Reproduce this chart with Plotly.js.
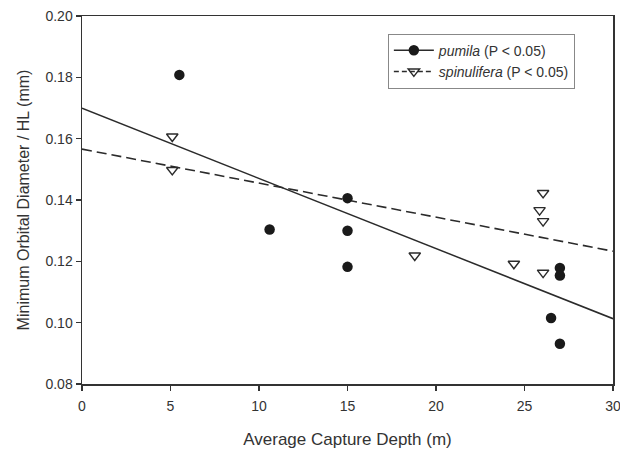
<!DOCTYPE html>
<html>
<head>
<meta charset="utf-8">
<script src="https://cdn.plot.ly/plotly-3.0.1.min.js"></script>
<style>html,body{margin:0;padding:0;background:#fff;}#chart{width:620px;height:451px;}</style>
</head>
<body>
<div id="chart"></div>
<script>
// pumila observations
var pumilaDepth = [5.5, 10.6, 15.0, 15.0, 15.0, 27.0, 27.0, 26.5, 27.0];
var pumilaRatio = [0.1808, 0.1304, 0.1406, 0.1300, 0.1182, 0.1178, 0.1154, 0.1015, 0.0931];
// spinulifera observations
var spinDepth = [5.1, 5.1, 18.8, 24.4, 26.05, 25.85, 26.05, 26.05];
var spinRatio = [0.1607, 0.1498, 0.1219, 0.1192, 0.1423, 0.1367, 0.1331, 0.1163];
// fitted regression lines (end points)
var fitDepth = [0, 30];
var pumilaFit = [0.1699, 0.1013];
var spinFit = [0.1566, 0.1233];
// labels
var pumilaName = '<i>pumila</i> (P &lt; 0.05)';
var spinName = '<i>spinulifera</i> (P &lt; 0.05)';
var xTitle = 'Average Capture Depth (m)';
var yTitle = 'Minimum Orbital Diameter / HL (mm)';

var ink = '#2b2b2b';
var traces = [
  {x: fitDepth, y: pumilaFit, mode: 'lines', line: {color: ink, width: 1.5}, showlegend: false, hoverinfo: 'skip'},
  {x: fitDepth, y: spinFit, mode: 'lines', line: {color: ink, width: 1.6, dash: '10px,5px'}, showlegend: false, hoverinfo: 'skip'},
  {x: pumilaDepth, y: pumilaRatio, mode: 'markers', marker: {symbol: 'circle', size: 10.5, color: '#1a1a1a'}, showlegend: false},
  {x: spinDepth, y: spinRatio, mode: 'markers', marker: {symbol: 'triangle-down-open', size: 10, color: ink, line: {width: 1.4, color: ink}}, showlegend: false},
  {x: [null], y: [null], mode: 'lines+markers', name: pumilaName, line: {color: ink, width: 1.5}, marker: {symbol: 'circle', size: 10.5, color: '#1a1a1a'}},
  {x: [null], y: [null], mode: 'lines+markers', name: spinName, line: {color: ink, width: 1.5, dash: '5px,3px'}, marker: {symbol: 'triangle-down-open', size: 10, color: ink, line: {width: 1.4, color: ink}}}
];

var layout = {
  width: 620, height: 451,
  margin: {l: 82, r: 7, t: 16, b: 67},
  paper_bgcolor: '#fff', plot_bgcolor: '#fff',
  font: {family: 'Liberation Sans, Arial, sans-serif', color: '#333', size: 14},
  showlegend: true,
  legend: {x: 0.576, y: 0.952, xanchor: 'left', yanchor: 'top', bordercolor: '#888', borderwidth: 1, bgcolor: '#fff',
           font: {size: 14, color: '#333'}, itemwidth: 40, tracegroupgap: 0},
  xaxis: {
    range: [0, 30], dtick: 5, tick0: 0, showgrid: false, zeroline: false,
    showline: true, mirror: true, linecolor: '#333', linewidth: 1.5,
    ticks: 'outside', ticklen: 5, tickwidth: 1.5, tickcolor: '#333',
    ticklabelstandoff: 4, ticklabeloverflow: 'allow',
    tickfont: {size: 14, color: '#333'},
    title: {text: xTitle, font: {size: 17, color: '#333'}, standoff: 20}
  },
  yaxis: {
    range: [0.08, 0.20], dtick: 0.02, tick0: 0.08, tickformat: '.2f', showgrid: false, zeroline: false,
    showline: true, mirror: true, linecolor: '#333', linewidth: 1.5,
    ticks: 'outside', ticklen: 5, tickwidth: 1.5, tickcolor: '#333',
    tickfont: {size: 14, color: '#333'},
    title: {text: yTitle, font: {size: 16, color: '#333'}, standoff: 12}
  }
};

Plotly.newPlot('chart', traces, layout, {displayModeBar: false, staticPlot: true});
</script>
</body>
</html>
